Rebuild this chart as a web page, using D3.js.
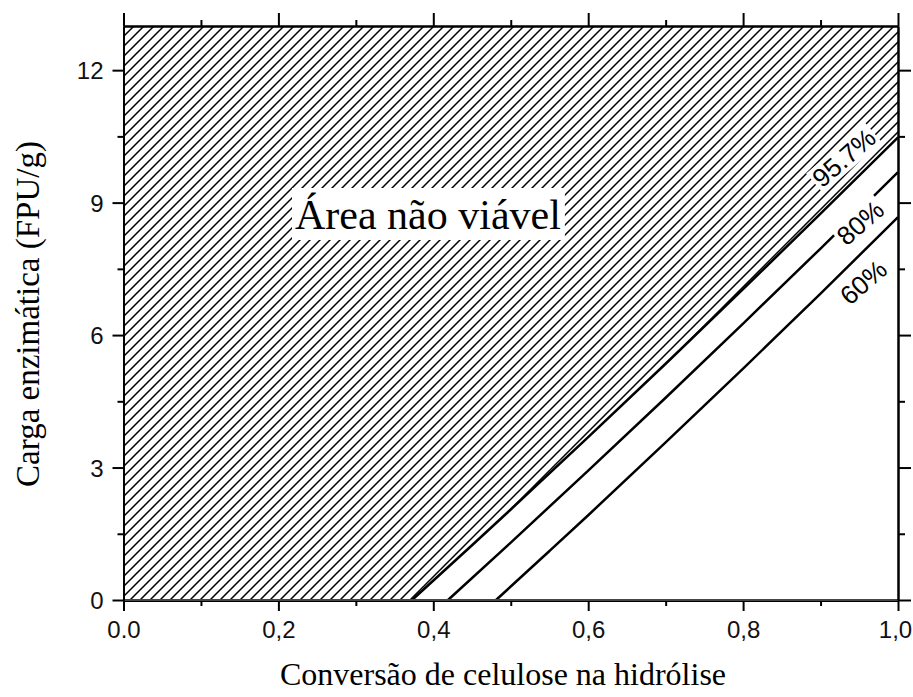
<!DOCTYPE html>
<html>
<head>
<meta charset="utf-8">
<script src="https://cdn.jsdelivr.net/npm/d3@7"></script>
<style>
  body { margin: 0; background: #fff; }
</style>
</head>
<body>
<svg id="chart" width="913" height="697"></svg>
<script>
// Axis ticks and labels
const xTicks = [0, 0.2, 0.4, 0.6, 0.8, 1.0];
const xTickLabels = ["0.0", "0,2", "0,4", "0,6", "0,8", "1,0"];
const xMinorTicks = [0.1, 0.3, 0.5, 0.7, 0.9];
const yTicks = [0, 3, 6, 9, 12];
const yTickLabels = ["0", "3", "6", "9", "12"];
const yMinorTicks = [1.5, 4.5, 7.5, 10.5];

// Minimum enzyme loading vs. cellulose conversion, one curve per level
const seriesNames = ["95.7%", "80%", "60%"];
const conv957 = [0.3725, 0.45, 0.5, 0.6, 0.7, 0.8, 0.9, 1.0];
const load957 = [0, 1.24, 2.05, 3.69, 5.35, 7.04, 8.75, 10.48];
const conv80 = [0.419, 0.5, 0.6, 0.7, 0.8, 0.9, 1.0];
const load80 = [0, 1.30, 2.93, 4.58, 6.26, 7.96, 9.69];
const conv60 = [0.481, 0.55, 0.6, 0.7, 0.8, 0.9, 1.0];
const load60 = [0, 1.11, 1.92, 3.57, 5.24, 6.94, 8.67];

const xTitle = "Conversão de celulose na hidrólise";
const yTitle = "Carga enzimática (FPU/g)";
const regionLabel = "Área não viável";

const series = [
  { name: seriesNames[0], pts: d3.zip(conv957, load957), at: [0.9300, 10.02] },
  { name: seriesNames[1], pts: d3.zip(conv80, load80), at: [0.951, 8.55] },
  { name: seriesNames[2], pts: d3.zip(conv60, load60), at: [0.955, 7.20] }
];

const svg = d3.select("#chart");
const x = d3.scaleLinear().domain([0, 1]).range([123.5, 898]);
const y = d3.scaleLinear().domain([0, 13]).range([600, 26]);

const sansFont = "'Liberation Sans', Arial, sans-serif";
const serifFont = "'Liberation Serif', 'Times New Roman', serif";

// Diagonal hatch for the infeasible region
const hs = 10;
const defs = svg.append("defs");
const pat = defs.append("pattern")
  .attr("id", "hatch")
  .attr("patternUnits", "userSpaceOnUse")
  .attr("width", hs).attr("height", hs);
pat.append("path")
  .attr("d", `M-1,1 L1,-1 M0,${hs} L${hs},0 M${hs - 1},${hs + 1} L${hs + 1},${hs - 1}`)
  .attr("stroke", "#000")
  .attr("stroke-width", 1.5);

const lineGen = d3.line()
  .x(d => x(d[0])).y(d => y(d[1]))
  .curve(d3.curveMonotoneX);

const clip = defs.append("clipPath").attr("id", "infeasible");
clip.append("rect")
  .attr("x", x(0)).attr("y", y(13))
  .attr("width", x(conv957[0]) - x(0) + 1)
  .attr("height", y(0) - y(13));
clip.append("path")
  .attr("d", d3.area()
    .x(d => x(d[0])).y0(y(13)).y1(d => y(d[1]))
    .curve(d3.curveMonotoneX)(series[0].pts));

svg.append("rect")
  .attr("x", x(0)).attr("y", y(13))
  .attr("width", x(1) - x(0)).attr("height", y(0) - y(13))
  .attr("fill", "url(#hatch)")
  .attr("clip-path", "url(#infeasible)");

// Curves
svg.append("g").selectAll("path")
  .data(series)
  .join("path")
  .attr("d", d => lineGen(d.pts))
  .attr("fill", "none")
  .attr("stroke", "#000")
  .attr("stroke-width", 2.5);

// Region label on a white box
const regionG = svg.append("g");
const regionText = regionG.append("text")
  .attr("x", 295).attr("y", 229)
  .attr("font-family", serifFont)
  .attr("font-size", 42)
  .attr("fill", "#000")
  .text(regionLabel);
const rb = regionText.node().getBBox();
regionG.insert("rect", "text")
  .attr("x", rb.x - 3).attr("y", 188)
  .attr("width", rb.width + 7).attr("height", 52)
  .attr("fill", "#fff");

// Curve labels, rotated along the lines
series.forEach(s => {
  const g = svg.append("g")
    .attr("transform", `translate(${x(s.at[0])},${y(s.at[1])}) rotate(-41)`);
  const t = g.append("text")
    .attr("text-anchor", "middle")
    .attr("dy", "0.36em")
    .attr("font-family", sansFont)
    .attr("font-size", 26)
    .attr("fill", "#000")
    .text(s.name);
  const b = t.node().getBBox();
  g.insert("rect", "text")
    .attr("x", b.x - 2).attr("y", b.y + 2)
    .attr("width", b.width + 4).attr("height", b.height - 4)
    .attr("fill", "#fff");
});

// Axes
function styleAxis(g) {
  g.select(".domain").attr("stroke", "#000").attr("stroke-width", 2);
  g.selectAll(".tick line").attr("stroke", "#000").attr("stroke-width", 2);
  g.selectAll(".tick text")
    .attr("font-family", sansFont)
    .attr("font-size", 24)
    .attr("fill", "#111");
}

svg.append("g").attr("transform", `translate(0,${y(0)})`)
  .call(d3.axisBottom(x).tickValues(xMinorTicks).tickSize(6).tickSizeOuter(0).tickFormat(""))
  .call(styleAxis);
svg.append("g").attr("transform", `translate(0,${y(0)})`)
  .call(d3.axisBottom(x).tickValues(xTicks).tickSize(11).tickSizeOuter(0).tickPadding(10)
    .tickFormat((d, i) => xTickLabels[i]))
  .call(styleAxis)
  .call(g => g.select(".domain").attr("stroke-width", 3))
  .call(g => g.selectAll(".tick text").filter(d => d === 1).attr("dx", -3));
// light inner stroke on the baseline
svg.append("line")
  .attr("x1", x(0)).attr("x2", x(1))
  .attr("y1", y(0)).attr("y2", y(0))
  .attr("stroke", "#b0b0b0").attr("stroke-width", 0.8);

svg.append("g").attr("transform", `translate(0,${y(13)})`)
  .call(d3.axisTop(x).tickValues(xMinorTicks).tickSize(6).tickSizeOuter(0).tickFormat(""))
  .call(styleAxis);
svg.append("g").attr("transform", `translate(0,${y(13)})`)
  .call(d3.axisTop(x).tickValues(xTicks).tickSize(13).tickSizeOuter(0).tickFormat(""))
  .call(styleAxis);

svg.append("g").attr("transform", `translate(${x(0)},0)`)
  .call(d3.axisLeft(y).tickValues(yMinorTicks).tickSize(6).tickSizeOuter(0).tickFormat(""))
  .call(styleAxis);
svg.append("g").attr("transform", `translate(${x(0)},0)`)
  .call(d3.axisLeft(y).tickValues(yTicks).tickSize(11).tickSizeOuter(0).tickPadding(9)
    .tickFormat((d, i) => yTickLabels[i]))
  .call(styleAxis)
  .call(g => g.selectAll(".tick text").attr("dy", "0.36em"));

svg.append("g").attr("transform", `translate(${x(1)},0)`)
  .call(d3.axisRight(y).tickValues(yMinorTicks).tickSize(7).tickSizeOuter(0).tickFormat(""))
  .call(styleAxis);
svg.append("g").attr("transform", `translate(${x(1)},0)`)
  .call(d3.axisRight(y).tickValues(yTicks).tickSize(13).tickSizeOuter(0).tickFormat(""))
  .call(styleAxis);

// Axis titles
svg.append("text")
  .attr("x", 503).attr("y", 685)
  .attr("text-anchor", "middle")
  .attr("font-family", serifFont)
  .attr("font-size", 32)
  .attr("fill", "#000")
  .text(xTitle);

svg.append("text")
  .attr("transform", `translate(39,${314}) rotate(-90)`)
  .attr("text-anchor", "middle")
  .attr("font-family", serifFont)
  .attr("font-size", 33)
  .attr("fill", "#000")
  .text(yTitle);
</script>
</body>
</html>
